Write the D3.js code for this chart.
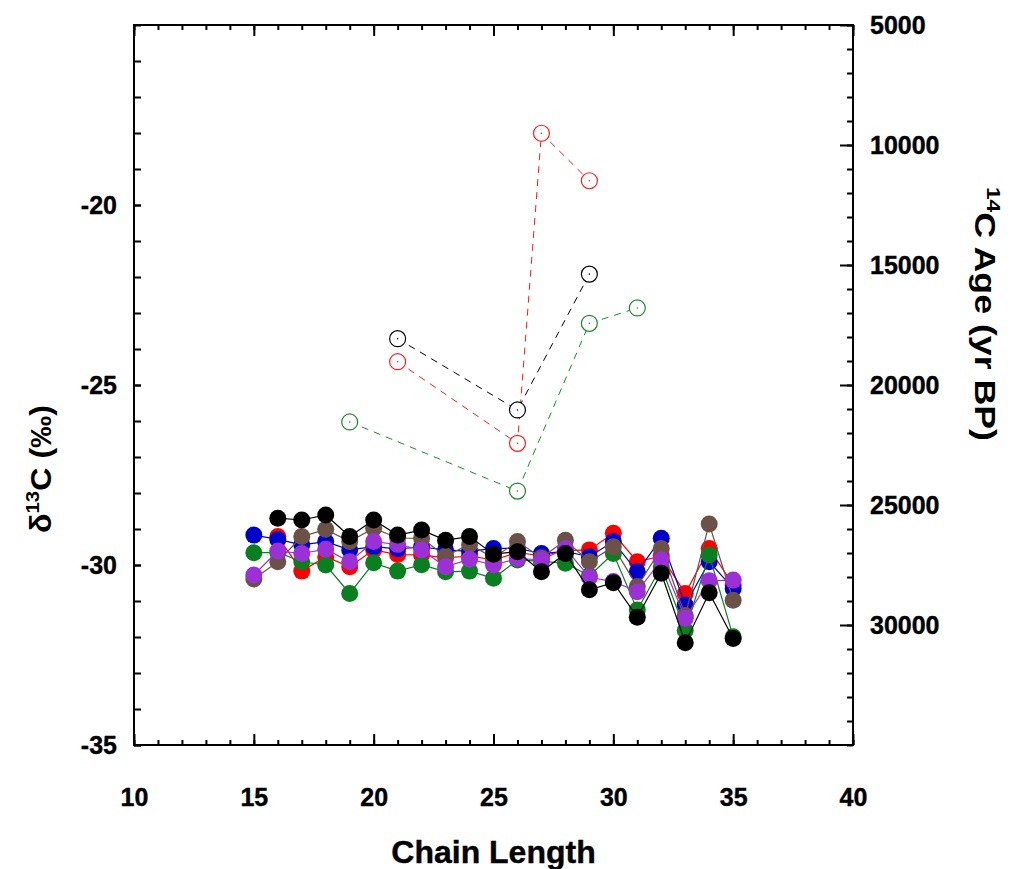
<!DOCTYPE html>
<html>
<head>
<meta charset="utf-8">
<script src="https://cdn.jsdelivr.net/npm/d3@7"></script>
<style>
  body { margin: 0; background: #fff; }
  svg { display: block; }
  text { font-family: "Liberation Sans", Arial, sans-serif; font-weight: bold; fill: #000; }
</style>
</head>
<body>
<div id="chart"></div>
<script>
// chain lengths for the filled (d13C) series
const chainLengths = [15, 16, 17, 18, 19, 20, 21, 22, 23, 24, 25, 26, 27, 28, 29, 30, 31, 32, 33, 34, 35];

// d13C values (permil), null where the homologue is missing
const redD13C    = [null, -29.21, -30.17, -29.77, -30.05, -29.58, -29.71, -29.72, -29.80, -29.75, -29.86, -29.65, -29.75, -29.60, -29.58, -29.12, -29.91, -29.75, -30.79, -29.54, -30.55];
const blueD13C   = [-29.17, -29.29, -29.44, -29.35, -29.58, -29.49, -29.55, -29.50, -29.58, -29.62, -29.54, -29.54, -29.68, -29.62, -29.77, -29.35, -30.19, -29.26, -31.11, -29.91, -30.65];
const greenD13C  = [-29.66, -29.65, -29.91, -30.00, -30.79, -29.94, -30.17, -29.99, -30.19, -30.17, -30.37, -29.86, -29.90, -29.95, -30.30, -29.68, -31.25, -30.05, -31.82, -29.72, -31.99];
const brownD13C  = [-30.39, -29.91, -29.21, -29.01, -29.35, -28.98, -29.25, -29.26, -29.75, -29.43, -29.80, -29.35, -29.80, -29.31, -29.91, -29.49, -30.60, -29.54, -31.40, -28.86, -30.98];
const purpleD13C = [-30.28, -29.61, -29.68, -29.56, -29.91, -29.35, -29.43, -29.58, -30.05, -29.84, -30.00, -29.82, -29.86, -29.54, -30.34, -30.46, -30.74, -29.86, -31.48, -30.44, -30.42];
const blackD13C  = [null, -28.70, -28.75, -28.61, -29.21, -28.75, -29.17, -29.03, -29.31, -29.21, -29.70, -29.63, -30.19, -29.68, -30.69, -30.49, -31.45, -30.23, -32.16, -30.77, -32.04];

// 14C ages (yr BP) for the open circles
const redAgeChain   = [21, 26, 27, 29];
const redAge        = [19030, 22430, 9510, 11490];
const blackAgeChain = [21, 26, 29];
const blackAge      = [18070, 21040, 15380];
const greenAgeChain = [19, 26, 29, 31];
const greenAge      = [21540, 24420, 17430, 16790];

const xTicks = [10, 15, 20, 25, 30, 35, 40];
const leftTicks = [-35, -30, -25, -20];
const rightTicks = [5000, 10000, 15000, 20000, 25000, 30000];

const width = 1015, height = 869;
const margin = { top: 25, right: 162, bottom: 124, left: 134 };
const plotW = width - margin.left - margin.right;
const plotH = height - margin.top - margin.bottom;

const svg = d3.select("#chart").append("svg")
    .attr("width", width)
    .attr("height", height);

const g = svg.append("g")
    .attr("transform", `translate(${margin.left},${margin.top})`);

const x = d3.scaleLinear().domain([10, 40]).range([0, plotW]);
const yLeft = d3.scaleLinear().domain([-35, -15]).range([plotH, 0]);
const yRight = d3.scaleLinear().domain([5000, 35000]).range([0, plotH]);

// plain hyphen for negatives, like the original
const fmt = d => String(d);

function styleAxis(sel) {
    sel.select(".domain").remove();
    sel.selectAll(".tick line").attr("stroke", "#000").attr("stroke-width", 2);
    sel.selectAll("text")
        .style("font-size", "25px")
        .attr("fill", "#000")
        .attr("stroke", "#000")
        .attr("stroke-width", 0.4);
}

// bottom axis: minor + major ticks pointing inward
g.append("g").attr("transform", `translate(0,${plotH})`)
    .call(d3.axisBottom(x).tickValues(d3.range(10, 41)).tickSize(-5).tickFormat(""))
    .call(styleAxis);
g.append("g").attr("transform", `translate(0,${plotH})`)
    .call(d3.axisBottom(x).tickValues(xTicks).tickSize(-11).tickPadding(43).tickFormat(fmt))
    .call(styleAxis);

// top axis ticks (no labels)
g.append("g")
    .call(d3.axisTop(x).tickValues(d3.range(10, 41)).tickSize(-5).tickFormat(""))
    .call(styleAxis);
g.append("g")
    .call(d3.axisTop(x).tickValues(xTicks).tickSize(-11).tickFormat(""))
    .call(styleAxis);

// left axis
g.append("g")
    .call(d3.axisLeft(yLeft).tickValues(d3.range(-35, -14)).tickSize(-7).tickFormat(""))
    .call(styleAxis);
g.append("g")
    .call(d3.axisLeft(yLeft).tickValues(leftTicks).tickSize(-7).tickPadding(17).tickFormat(fmt))
    .call(styleAxis);

// right axis
g.append("g").attr("transform", `translate(${plotW},0)`)
    .call(d3.axisRight(yRight).tickValues(d3.range(5000, 35001, 1000)).tickSize(-6).tickFormat(""))
    .call(styleAxis);
g.append("g").attr("transform", `translate(${plotW},0)`)
    .call(d3.axisRight(yRight).tickValues(rightTicks).tickSize(-13).tickPadding(17).tickFormat(fmt))
    .call(styleAxis);

// frame
g.append("rect")
    .attr("width", plotW)
    .attr("height", plotH)
    .attr("fill", "none")
    .attr("stroke", "#000")
    .attr("stroke-width", 2);

// filled series (drawn in this order so black ends up on top)
const filledSeries = [
    { color: "#ff0000", values: redD13C },
    { color: "#0000cc", values: blueD13C },
    { color: "#0a7f1f", values: greenD13C },
    { color: "#6b5147", values: brownD13C },
    { color: "#9b30d6", values: purpleD13C },
    { color: "#000000", values: blackD13C }
];

const line = d3.line()
    .defined(d => d.v !== null)
    .x(d => x(d.c))
    .y(d => yLeft(d.v));

filledSeries.forEach(s => {
    const pts = chainLengths.map((c, i) => ({ c: c, v: s.values[i] }));
    g.append("path")
        .datum(pts)
        .attr("d", line)
        .attr("fill", "none")
        .attr("stroke", s.color)
        .attr("stroke-width", 1.2);
    g.selectAll(null)
        .data(pts.filter(d => d.v !== null))
        .enter().append("circle")
        .attr("cx", d => x(d.c))
        .attr("cy", d => yLeft(d.v))
        .attr("r", 8.5)
        .attr("fill", s.color);
});

// open circles with dashed lines (right axis)
const ageSeries = [
    { color: "#ff1a1a", chain: redAgeChain, ages: redAge },
    { color: "#000000", chain: blackAgeChain, ages: blackAge },
    { color: "#1a8a2a", chain: greenAgeChain, ages: greenAge }
];

const ageLine = d3.line()
    .x(d => x(d.c))
    .y(d => yRight(d.a));

ageSeries.forEach(s => {
    const pts = s.chain.map((c, i) => ({ c: c, a: s.ages[i] }));
    g.append("path")
        .datum(pts)
        .attr("d", ageLine)
        .attr("fill", "none")
        .attr("stroke", s.color)
        .attr("stroke-width", 1)
        .attr("stroke-dasharray", "7,6");
    const grp = g.selectAll(null)
        .data(pts)
        .enter().append("g")
        .attr("transform", d => `translate(${x(d.c)},${yRight(d.a)})`);
    grp.append("circle")
        .attr("r", 8)
        .attr("fill", "#fff")
        .attr("stroke", s.color)
        .attr("stroke-width", 1.2);
    grp.append("circle")
        .attr("r", 0.8)
        .attr("fill", s.color);
});

// axis titles
svg.append("text")
    .attr("x", margin.left + plotW / 2)
    .attr("y", 863)
    .attr("text-anchor", "middle")
    .attr("stroke", "#000")
    .attr("stroke-width", 0.4)
    .style("font-size", "32px")
    .text("Chain Length");

const leftTitle = svg.append("text")
    .attr("transform", "translate(51,469) rotate(-90)")
    .attr("text-anchor", "middle")
    .attr("textLength", 128)
    .attr("lengthAdjust", "spacingAndGlyphs")
    .style("font-size", "30px");
leftTitle.append("tspan").text("δ");
leftTitle.append("tspan").attr("dy", -12).style("font-size", "19px").text("13");
leftTitle.append("tspan").attr("dy", 12).text("C (‰)");

const rightTitle = svg.append("text")
    .attr("transform", "translate(975,314) rotate(90)")
    .attr("text-anchor", "middle")
    .attr("textLength", 254)
    .attr("lengthAdjust", "spacingAndGlyphs")
    .style("font-size", "30px");
rightTitle.append("tspan").attr("dy", -12).style("font-size", "19px").text("14");
rightTitle.append("tspan").attr("dy", 12).text("C Age (yr BP)");
</script>
</body>
</html>
